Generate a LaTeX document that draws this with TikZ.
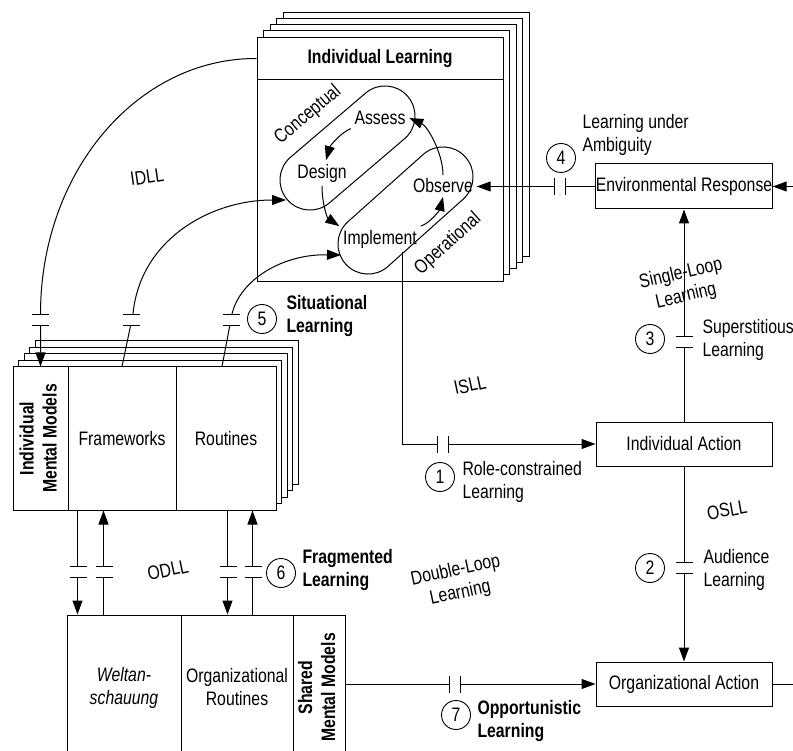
\documentclass[tikz,border=0pt]{standalone}
\usepackage{fontspec}
\usepackage{graphicx}
\setmainfont{Liberation Sans}[FakeStretch=0.81]
\usetikzlibrary{arrows.meta}
\tikzset{
  arr/.style={-{Triangle[length=14pt,width=10pt]}},
  cellbox/.style={draw,fill=white,inner sep=0pt,align=center,minimum width=#1},
  lbl/.style={inner sep=0pt,align=left,anchor=west},
  boldtxt/.style={font=\fontsize{19.5}{23}\selectfont\bfseries},
  numc/.style={draw,circle,minimum size=29pt,inner sep=0pt,line width=0.9pt},
  stadium/.style={draw,rounded corners=29.9pt},
  brk/.pic={\fill[white] (-9,-5.5) rectangle (9,5.5);
            \draw (-8.5,-5.5) -- (8.5,-5.5) (-8.5,5.5) -- (8.5,5.5);}
}
\begin{document}
\begin{tikzpicture}[x=1pt,y=-1pt,line width=1pt,font=\fontsize{19.5}{23}\selectfont]
\useasboundingbox (0,0) rectangle (793,751);
\clip (0,0) rectangle (793,751);

% ---------- Individual Learning (stack) ----------
\foreach \i in {4,3,2,1}
  \draw[fill=white] ({257+6.5*\i},{37-6*\i}) rectangle ({503+6.5*\i},{281-6*\i});
\node[cellbox=246pt,minimum height=42pt,anchor=north,boldtxt] (ilhead) at (380,37) {Individual Learning};
\node[cellbox=246pt,minimum height=202pt,anchor=north] (ilbody) at (380,79) {};

% the two learning loops
\draw[stadium,rotate around={40.5:(347.5,148)}] (268.2,118) rectangle (426.8,178);
\draw[stadium,rotate around={41.8:(405.5,210.5)}] (325.2,180.5) rectangle (485.8,240.5);
\coordinate (conceptin) at (286,200);
\coordinate (operin) at (341,255);
\node[rotate=40] (conlbl) at (308,115) {Conceptual};
\node[rotate=42] (oplbl) at (448,244) {Operational};

\node (assess) at (380,118) {Assess};
\node (design) at (322,173) {Design};
\node (observe) at (443,186) {Observe};
\node (implement) at (380,239) {Implement};

\draw[arr] (assess.south west) .. controls +(-10,4) and +(4,-14) .. ([xshift=4pt]design.north);
\draw[arr] (design.south) .. controls +(0,18) and +(-12,-8) .. (implement.north west);
\draw[arr] (implement.north east) .. controls +(10,-3) and +(-3,12) .. (observe.south);
\draw[arr] (observe.north) .. controls +(0,-22) and +(18,8) .. (assess.east);

% ---------- Individual Mental Models (stack) ----------
\foreach \i in {4,3,2,1}
  \draw[fill=white] ({13+5.5*\i},{367-6.5*\i}) rectangle ({276+5.5*\i},{510-6.5*\i});
\node[cellbox=55pt,minimum height=143pt,boldtxt] (imm) at (40.5,438.5)
  {\rotatebox{90}{\begin{tabular}{@{}c@{}}Individual\\Mental Models\end{tabular}}};
\node[cellbox=108pt,minimum height=143pt] (fw) at (122,438.5) {Frameworks};
\node[cellbox=100pt,minimum height=143pt] (rt) at (226,438.5) {Routines};

% ---------- Shared mental models ----------
\node[cellbox=114pt,minimum height=145pt,font=\fontsize{19.5}{23}\selectfont\itshape] (welt) at (124,687.5) {Weltan-\\schauung};
\node[cellbox=112pt,minimum height=145pt] (orr) at (237,687.5) {Organizational\\Routines};
\node[cellbox=52pt,minimum height=145pt,boldtxt] (smm) at (319,687.5)
  {\rotatebox{90}{\begin{tabular}{@{}c@{}}Shared\\Mental Models\end{tabular}}};

% ---------- Action boxes ----------
\node[cellbox=176pt,minimum height=45pt] (env) at (684,186.5) {Environmental Response};
\node[cellbox=176pt,minimum height=44pt] (indact) at (684,444) {Individual Action};
\node[cellbox=176pt,minimum height=44pt] (orgact) at (684,684) {Organizational Action};
\coordinate (redge1) at (793,186.5);
\coordinate (redge2) at (793,684);

% ---------- connectors ----------
\draw[arr] (ilhead.west) .. controls (137,58) and (40.5,172) .. (40.5,314) -- (imm.north);
\draw[arr] (fw.north) -- (133,314) .. controls (140,240) and (210,200) .. (conceptin);
\draw[arr] ([xshift=-4pt]rt.north) -- (232,314) .. controls (240,280) and (282,254) .. (operin);
\draw[arr] ([xshift=22pt]implement.south) |- (indact.west);
\draw[arr] (env.west) -- (env.west -| observe.east);
\draw[arr] (redge1) -- (env.east);
\draw[arr] (indact.north) -- (env.south);
\draw[arr] (indact.south) -- (orgact.north);
\draw[arr] (smm.east |- orgact.west) -- (orgact.west);
\draw (orgact.east) -- (redge2);

\draw[arr] ([xshift=10pt]fw.south west) -- ([xshift=11pt]welt.north west);
\draw[arr] ([xshift=37pt]welt.north west) -- ([xshift=36pt]fw.south west);
\draw[arr] ([xshift=52pt]rt.south west) -- ([xshift=47pt]orr.north west);
\draw[arr] ([xshift=72pt]orr.north west) -- ([xshift=77pt]rt.south west);

% ---------- breaks ----------
\pic at (40.5,320.5) {brk};
\pic at (131.6,320.5) {brk};
\pic at (231,320.5) {brk};
\pic[rotate=90] at (443,444) {brk};
\pic[rotate=90] at (560,186.5) {brk};
\pic at (684,342) {brk};
\pic at (684,568) {brk};
\pic[rotate=90] at (455,684) {brk};
\pic at (78,571.5) {brk};
\pic at (104,571.5) {brk};
\pic at (228,571.5) {brk};
\pic at (253,571.5) {brk};

% ---------- numbered labels ----------
\node[numc] (n1) at (440,477) {1};
\node[lbl] (t1) at (462,481.5) {Role-constrained\\Learning};
\node[numc] (n2) at (650,568) {2};
\node[lbl] (t2) at (703,569.5) {Audience\\Learning};
\node[numc] (n3) at (650,339) {3};
\node[lbl] (t3) at (702,339.5) {Superstitious\\Learning};
\node[numc] (n4) at (561,158) {4};
\node[lbl] (t4) at (582,134.5) {Learning under\\Ambiguity};
\node[numc] (n5) at (262,319) {5};
\node[lbl,boldtxt] (t5) at (286,316.5) {Situational\\Learning};
\node[numc] (n6) at (281,573) {6};
\node[lbl,boldtxt] (t6) at (302,570) {Fragmented\\Learning};
\node[numc] (n7) at (456,715) {7};
\node[lbl,boldtxt] (t7) at (477,720.5) {Opportunistic\\Learning};

% ---------- loop labels ----------
\node[rotate=8] (idll) at (147,177) {IDLL};
\node[rotate=12] (isll) at (470,385) {ISLL};
\node[rotate=12] (odll) at (168,570) {ODLL};
\node[rotate=10] (osll) at (727,510) {OSLL};
\node[rotate=12,align=center] (dll) at (458,582) {Double-Loop\\Learning};
\node[rotate=13,align=center] (sll) at (683.5,285) {Single-Loop\\Learning};
\end{tikzpicture}
\end{document}
